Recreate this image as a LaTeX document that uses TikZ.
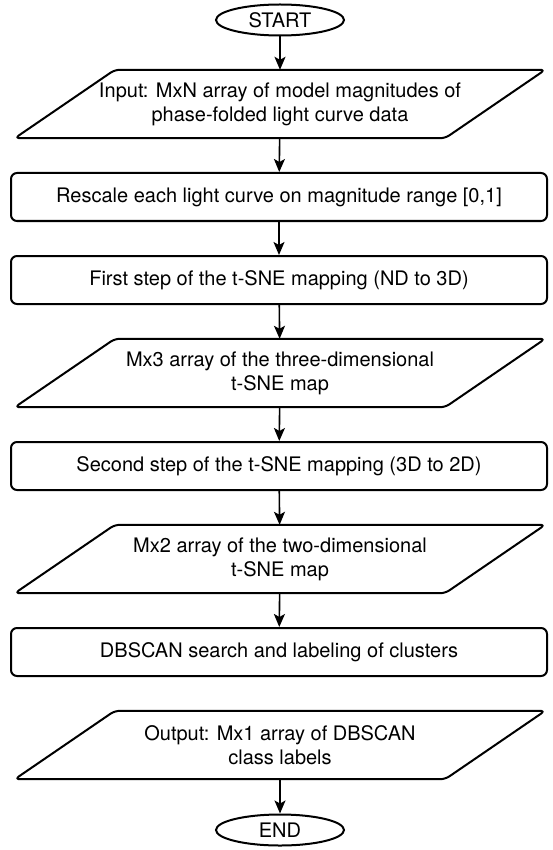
\documentclass[tikz,border=0pt]{standalone}
\usepackage{fontspec}
\setmainfont{TeX Gyre Heros}
\usetikzlibrary{shapes.geometric,arrows.meta}
\begin{document}
\begin{tikzpicture}[x=1pt,y=1pt,
  font=\fontsize{20}{24}\selectfont,
  boite/.style={draw,line width=2pt,rounded corners=6pt,minimum width=536pt,minimum height=48pt},
  donnee/.style={minimum width=430pt,minimum height=68pt,align=center,inner sep=0pt},
  contour/.style={line width=2pt,rounded corners=5pt},
  terminal/.style={draw,line width=2pt,ellipse,minimum width=128pt,minimum height=31pt,inner sep=0pt},
  fleche/.style={-{Stealth[length=13pt,width=11pt,inset=3pt]},line width=1.6pt}]
\useasboundingbox (0,0) rectangle (553,-850);
\node[terminal] (debut) at (280,-20) {START}; % début
\node[donnee] (entree) at (280,-104) {Input: MxN array of model magnitudes of\\phase-folded light curve data};
\node[boite] (echelle) at (279,-197) {Rescale each light curve on magnitude range [0,1]};
\node[boite] (etape1) at (279,-280) {First step of the t-SNE mapping (ND to 3D)};
\node[donnee] (carte3) at (280,-373) {Mx3 array of the three-dimensional\\t-SNE map};
\node[boite] (etape2) at (279,-466) {Second step of the t-SNE mapping (3D to 2D)};
\node[donnee] (carte2) at (280,-559) {Mx2 array of the two-dimensional\\t-SNE map};
\node[boite] (dbscan) at (279,-652) {DBSCAN search and labeling of clusters};
\node[donnee] (sortie) at (280,-745) {Output: Mx1 array of DBSCAN\\class labels};
\node[terminal] (fin) at (280,-830) {END}; % fin
% parallélogrammes des données
\foreach \n in {entree,carte3,carte2,sortie}
  \draw[contour] ([xshift=-50pt]\n.south west) -- ([xshift=50pt]\n.north west)
    -- ([xshift=50pt]\n.north east) -- ([xshift=-50pt]\n.south east) -- cycle;
% flèches, de haut en bas
\draw[fleche] (debut) -- (entree);
\draw[fleche] (entree) -- (echelle);
\draw[fleche] (echelle) -- (etape1);
\draw[fleche] (etape1) -- (carte3);
\draw[fleche] (carte3) -- (etape2);
\draw[fleche] (etape2) -- (carte2);
\draw[fleche] (carte2) -- (dbscan);
\draw[fleche] (sortie) -- (fin);
\end{tikzpicture}
\end{document}
